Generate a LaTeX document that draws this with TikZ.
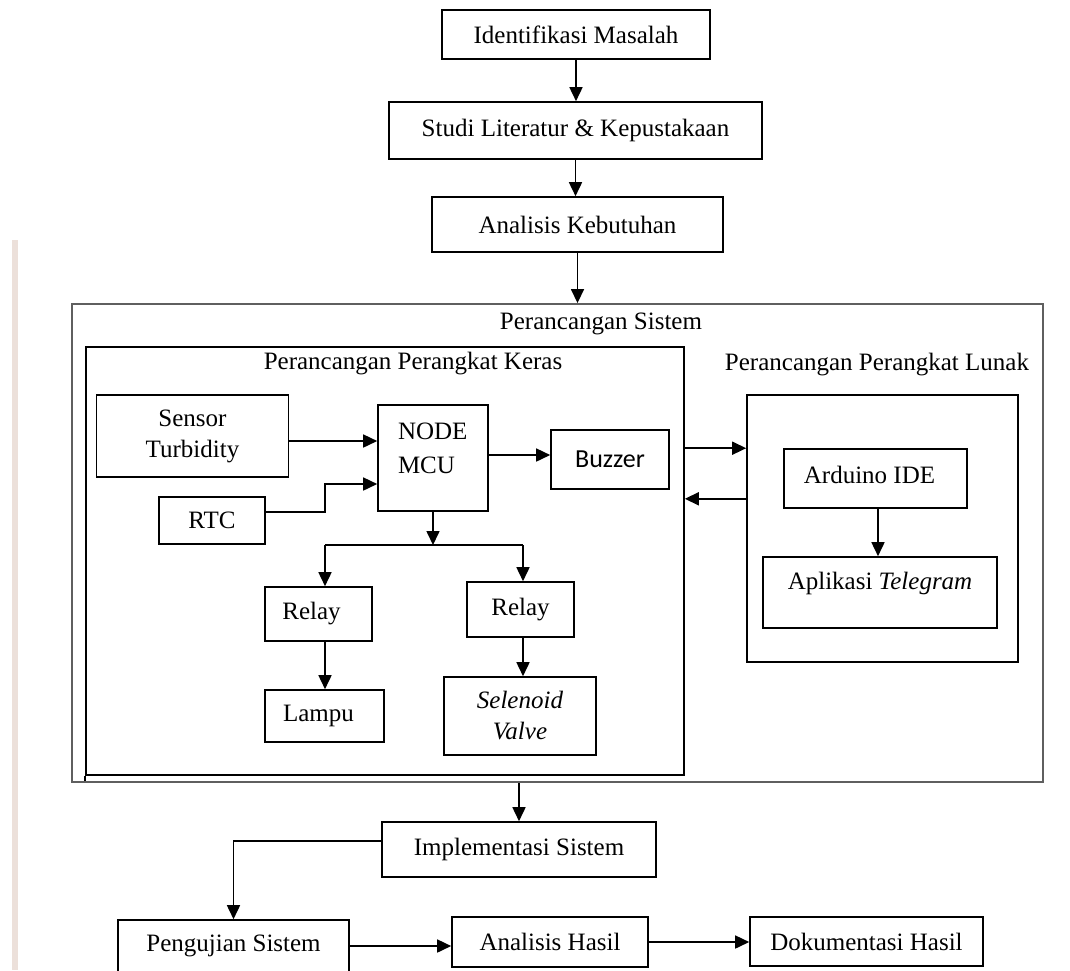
\documentclass[tikz,border=0pt]{standalone}
\usepackage{fontspec}
\setmainfont{Liberation Serif}
\newfontfamily\carlitofont{Carlito}
\usetikzlibrary{arrows.meta}
\definecolor{beigestrip}{RGB}{236,224,218}
\definecolor{outergray}{RGB}{95,95,95}
\begin{document}
\begin{tikzpicture}[x=1pt,y=-1pt,
  line width=1.6pt,
  box/.style={draw, rectangle, inner sep=0pt, align=center, font=\fontsize{25}{31}\selectfont},
  lbl/.style={inner sep=0pt, align=center, font=\fontsize{25}{31}\selectfont},
  arr/.style={-{Triangle[length=14pt,width=13pt]}},
  groupbox/.style={draw, rectangle, inner sep=0pt},
]
\useasboundingbox (0,0) rectangle (1070,970);
\clip (0,0) rectangle (1070,970);
\fill[beigestrip] (12,240) rectangle (18,970);

% top flow
\node[box, minimum width=268pt, minimum height=49pt] (idm) at (576,34.5) {Identifikasi Masalah};
\node[box, minimum width=373pt, minimum height=57pt] (studi) at (575.5,130.5) {Studi Literatur \& Kepustakaan};
\node[box, minimum width=291pt, minimum height=55pt] (analisis) at (577.5,224.5) {Analisis Kebutuhan};

% system design group
\node[groupbox, draw=outergray, line width=1.9pt, minimum width=971pt, minimum height=478pt] (sys) at (557.5,543) {};
\node[lbl] (systitle) at (601,324) {Perancangan Sistem};

\node[groupbox, minimum width=598pt, minimum height=428pt] (hw) at (385,561) {};
\draw (hw.south west) -- ++(0,5);
\node[lbl] (hwtitle) at (413,364) {Perancangan Perangkat Keras};

\node[lbl] (swtitle) at (877,365) {Perancangan Perangkat Lunak};
\node[groupbox, minimum width=271pt, minimum height=267pt] (sw) at (882.5,528.5) {};

% hardware blocks
\node[box, minimum width=192pt, minimum height=82pt] (sensor) at (192.5,436) {Sensor\\Turbidity};
\node[box, minimum width=106pt, minimum height=47pt] (rtc) at (212,520.5) {RTC};
\node[box, minimum width=110pt, minimum height=106pt,
  label={[lbl, anchor=west, align=left, xshift=20pt, yshift=10pt, font=\fontsize{25}{34}\selectfont]west:{NODE\\MCU}}] (mcu) at (433,458) {};
\node[box, minimum width=118pt, minimum height=59pt, font=\carlitofont\fontsize{26}{31}\selectfont] (buzzer) at (610,459.5) {Buzzer};
\node[box, minimum width=107pt, minimum height=54pt] (relayA) at (318.5,614) {Relay\hspace*{14pt}};
\node[box, minimum width=107pt, minimum height=55pt] (relayB) at (520.5,609.5) {Relay};
\node[box, minimum width=119pt, minimum height=52pt] (lampu) at (324.5,716) {Lampu\hspace*{12pt}};
\node[box, minimum width=152pt, minimum height=78pt] (valve) at (520,716) {\textit{Selenoid}\\\textit{Valve}};

% software blocks
\node[box, minimum width=183pt, minimum height=59pt,
  label={[lbl, xshift=-6pt, yshift=3.5pt]center:Arduino IDE}] (ide) at (875.5,478.5) {};
\node[box, minimum width=234pt, minimum height=71pt,
  label={[lbl, yshift=9.5pt]center:{Aplikasi \textit{Telegram}}}] (tele) at (880,592.5) {};

% bottom flow
\node[box, minimum width=274pt, minimum height=55pt] (impl) at (519,849.5) {Implementasi Sistem};
\node[box, minimum width=231pt, minimum height=52pt] (peng) at (233.5,946) {Pengujian Sistem};
\node[box, minimum width=196pt, minimum height=50pt] (hasil) at (550,942) {Analisis Hasil};
\node[box, minimum width=233pt, minimum height=49pt] (dok) at (866.5,941.5) {Dokumentasi Hasil};

% connectors: top flow
\draw[arr] (idm.south) -- (idm.south |- studi.north);
\draw[arr] (studi.south) -- (studi.south |- analisis.north);
\draw[arr] (analisis.south) -- (analisis.south |- sys.north);

% hardware connectors
\coordinate (sensout) at ([yshift=-5pt]sensor.east);
\draw[arr] (sensout) -- (sensout -| mcu.west);
\coordinate (rtcout) at ([yshift=8.5pt]rtc.east);
\coordinate (rtcbend) at (325,484);
\draw[arr] (rtcout) -| (rtcbend) -- (rtcbend -| mcu.west);
\coordinate (mcuout) at ([yshift=3pt]mcu.east);
\draw[arr] (mcuout) -- (mcuout -| buzzer.west);
\coordinate (split) at (433,545);
\draw[arr] (mcu.south) -- (split);
\coordinate (bl) at (325,545);
\coordinate (br) at (523,545);
\draw (bl) -- (br);
\draw[arr] (bl) -- (bl |- relayA.north);
\draw[arr] (br) -- (br |- relayB.north);
\draw[arr] (bl |- relayA.south) -- (bl |- lampu.north);
\draw[arr] (br |- relayB.south) -- (br |- valve.north);

% hardware <-> software
\draw[arr] (hw.east |- ide.north) -- (sw.west |- ide.north);
\coordinate (lowy) at ([yshift=10pt]ide.south);
\draw[arr] (sw.west |- lowy) -- (hw.east |- lowy);
\coordinate (ideout) at (878,508);
\draw[arr] (ideout) -- (ideout |- tele.north);

% bottom flow connectors
\draw[arr] (impl.north |- sys.south) -- (impl.north);
\coordinate (implout) at ([yshift=8.5pt]impl.west);
\draw[arr] (implout) -| (peng.north);
\draw[arr] (peng.east) -- (peng.east -| hasil.west);
\draw[arr] (hasil.east) -- (hasil.east -| dok.west);
\end{tikzpicture}
\end{document}
